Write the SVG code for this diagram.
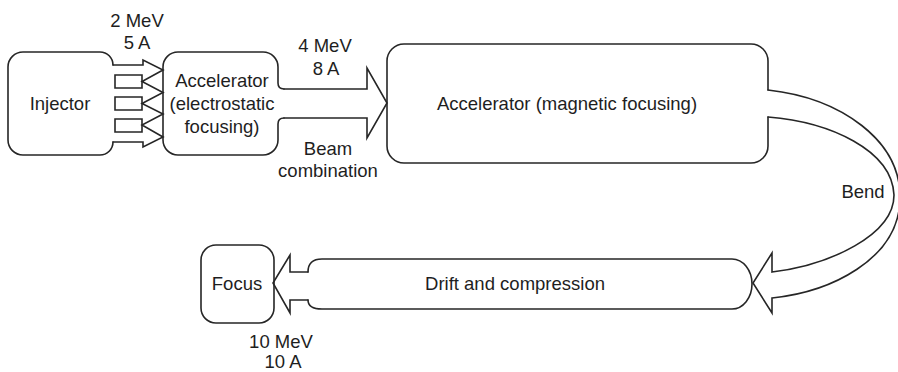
<svg xmlns="http://www.w3.org/2000/svg" width="898" height="372" viewBox="0 0 898 372">
<style>
.ln{fill:none;stroke:#262626;stroke-width:1.6;stroke-linejoin:miter;stroke-linecap:round}
.t{font-family:"Liberation Sans",Arial,sans-serif;font-size:18.5px;fill:#1e1e1e;text-anchor:middle}
</style>
<rect width="898" height="372" fill="#ffffff"/>
<g id="injector">
<path class="ln" d="M113,65 A13,13 0 0 0 100,52 L23,52 A15,15 0 0 0 8,67 L8,140 A15,15 0 0 0 23,155 L100,155 A13,13 0 0 0 113,142"/>
<text class="t" x="60" y="110">Injector</text>
</g>
<g id="accelerator-electrostatic">
<path class="ln" d="M284,89 Q278,89 278,83 L278,67 A15,15 0 0 0 263,52 L178,52 A15,15 0 0 0 163,67 L163,140 A15,15 0 0 0 178,155 L263,155 A15,15 0 0 0 278,140 L278,124 Q278,118 284,118"/>
<text class="t" x="222" y="87">Accelerator</text>
<text class="t" x="222" y="110">(electrostatic</text>
<text class="t" x="222" y="133">focusing)</text>
</g>
<g id="accelerator-magnetic">
<path class="ln" d="M768,90 L768,61 A17,17 0 0 0 751,44 L404,44 A17,17 0 0 0 387,61 L387,146 A17,17 0 0 0 404,163 L751,163 A17,17 0 0 0 768,146 L768,117"/>
<text class="t" x="567" y="110">Accelerator (magnetic focusing)</text>
</g>
<g id="drift">
<path class="ln" d="M308,272 Q308,259 322,259 L732,259 A20,25 0 0 1 752,284 A20,25 0 0 1 732,309 L322,309 Q308,309 308,300"/>
<text class="t" x="515" y="290">Drift and compression</text>
</g>
<g id="focus">
<rect class="ln" x="201" y="245" width="73" height="78" rx="15" ry="15"/>
<text class="t" x="237" y="290">Focus</text>
</g>
<g id="connectors">
<path class="ln" d="M113,65 L143,65 L143,60 L163,70 L142,81.5 L163,92.5 L142,103.5 L163,114 L142,125 L163,137 L143,147 L143,142 L113,142"/>
<path class="ln" d="M142,75 L115,75 L115,88 L142,88 Z"/>
<path class="ln" d="M142,97 L115,97 L115,110 L142,110 Z"/>
<path class="ln" d="M142,119 L115,119 L115,132 L142,132 Z"/>
<path class="ln" d="M284,89 L367,89 L367,68 L387,103 L367,138 L367,118 L284,118"/>
<path class="ln" d="M768,90 C840,98 902,140 900,200 C898,260 830,292 772,298 L772,313 L753,283 L772,253 L772,272 C830,265 894,235 894,195 C892,150 830,122 768,117"/>
<path class="ln" d="M308,272 L290,272 L290,255 L273,283 L290,313 L290,300 L308,300"/>
<text class="t" x="137" y="27">2 MeV</text>
<text class="t" x="137" y="49">5 A</text>
<text class="t" x="325" y="52">4 MeV</text>
<text class="t" x="326" y="75">8 A</text>
<text class="t" x="328" y="155">Beam</text>
<text class="t" x="328" y="177">combination</text>
<text class="t" x="863" y="198">Bend</text>
<text class="t" x="281" y="348">10 MeV</text>
<text class="t" x="283" y="368">10 A</text>
</g>
</svg>
